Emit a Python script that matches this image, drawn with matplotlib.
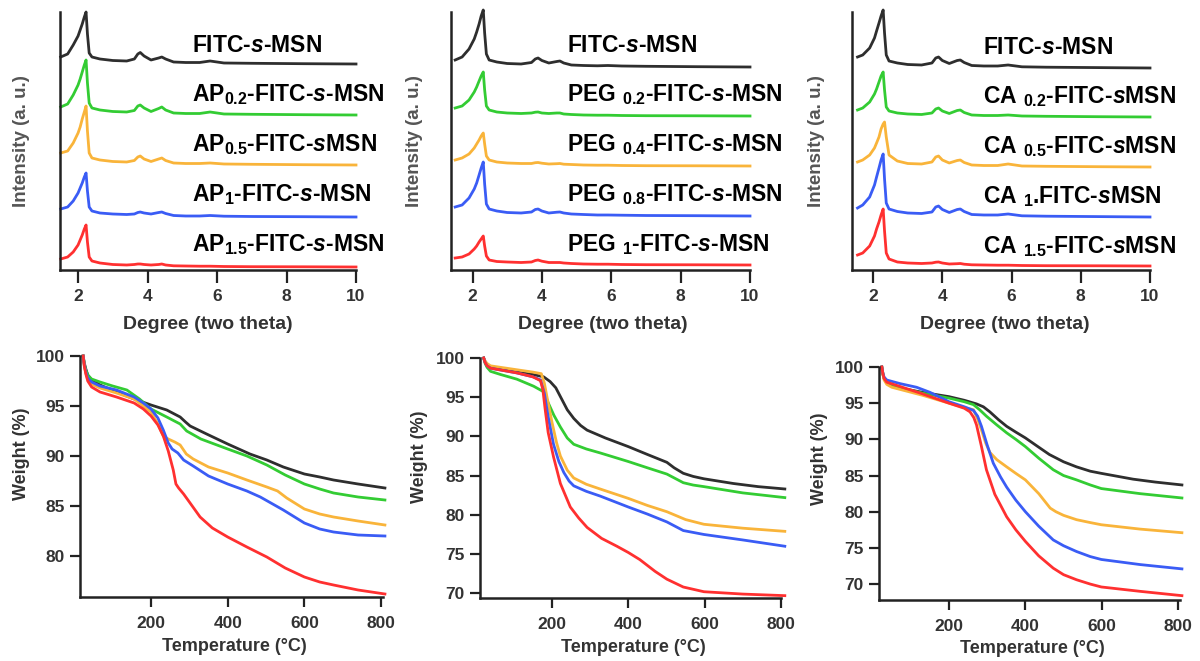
import numpy as np
import matplotlib
matplotlib.use('Agg')
import matplotlib.pyplot as plt

plt.rcParams['font.family'] = ['Liberation Sans', 'DejaVu Sans']
plt.rcParams['font.weight'] = 'bold'
plt.rcParams['axes.labelweight'] = 'bold'
plt.rcParams['mathtext.fontset'] = 'custom'
plt.rcParams['mathtext.rm'] = 'Liberation Sans:bold'
plt.rcParams['mathtext.it'] = 'Liberation Sans:bold:italic'
plt.rcParams['mathtext.bf'] = 'Liberation Sans:bold'
plt.rcParams['mathtext.default'] = 'rm'

colors = ['#2e2e2e', '#33cc33', '#f9b43a', '#3a5cf5', '#ff3030']

# ---- XRD (top row), intensity in a.u. above each trace's own baseline
ap_deg = [1.5, 1.7, 1.86, 2.0, 2.06, 2.12, 2.18, 2.23, 2.27, 2.32, 2.4, 2.63, 3.0, 3.4,
          3.62, 3.72, 3.79, 3.9, 4.1, 4.32, 4.41, 4.52, 4.75, 5.1, 5.5, 5.8, 6.2, 7.0, 8.5, 10.0]
ap_xrd = [
    [7, 10, 19, 28, 34, 40, 47, 52, 30, 11, 7, 5, 3.5, 3, 5, 10, 11.5, 8, 4, 6, 7, 5, 2, 1.5, 1.5, 3, 1, 0.7, 0.3, 0],
    [8, 11, 20, 30, 36, 43, 50, 55, 32, 12, 7, 5, 3.5, 3, 4.5, 9, 10, 7, 3.5, 6.5, 8, 5, 2, 1.5, 1.5, 3, 1, 0.7, 0.3, 0],
    [12, 14, 22, 32, 38, 46, 53, 59, 34, 12, 7, 5, 3.5, 3, 4.5, 8, 9, 6, 3.5, 6, 7, 4.5, 2, 1.5, 1.5, 2, 1, 0.7, 0.3, 0],
    [8, 10, 16, 24, 29, 34, 40, 44, 26, 10, 6, 4, 3, 2.5, 3, 4.5, 5, 4, 3, 4.5, 5, 3.5, 1.5, 1, 1, 1.5, 0.8, 0.5, 0.3, 0],
    [8, 10, 15, 22, 27, 32, 38, 42, 25, 10, 6, 4, 2.5, 2, 2.5, 3, 3, 2.5, 2, 2.5, 3, 2, 1.2, 1, 0.8, 0.8, 0.5, 0.3, 0.2, 0],
]
ap_base = [206, 155, 105, 53, 3]
ap_names = ['FITC-$\\mathit{s}$-MSN',
            '$\\mathrm{AP}_{0.2}$-FITC-$\\mathit{s}$-MSN',
            '$\\mathrm{AP}_{0.5}$-FITC-$\\mathit{s}$MSN',
            '$\\mathrm{AP}_{1}$-FITC-$\\mathit{s}$-MSN',
            '$\\mathrm{AP}_{1.5}$-FITC-$\\mathit{s}$-MSN']

peg_deg = [1.5, 1.7, 1.9, 2.05, 2.12, 2.19, 2.25, 2.31, 2.35, 2.4, 2.48, 2.7, 3.0, 3.4,
           3.7, 3.81, 3.89, 4.0, 4.2, 4.43, 4.52, 4.63, 4.85, 5.2, 5.6, 5.9, 6.3, 7.0, 8.5, 10.0]
peg_xrd = [
    [7, 10, 18, 28, 35, 43, 51, 57, 34, 13, 7, 5, 3.5, 3, 4.5, 8, 9, 6.5, 4, 5.5, 6, 4, 2, 1.5, 1.2, 1.5, 1, 0.7, 0.3, 0],
    [8, 10, 16, 24, 29, 35, 40, 44, 26, 10, 6, 4, 3, 2.5, 3, 3.8, 4, 3, 2.5, 3, 3, 2, 1.5, 1, 0.8, 0.8, 0.5, 0.3, 0.2, 0],
    [6, 8, 12, 18, 22, 26, 30, 33, 22, 10, 6, 4, 3, 2.5, 2.5, 3.3, 3.5, 2.8, 2, 2.3, 2.5, 1.8, 1.5, 1, 0.8, 0.8, 0.5, 0.3, 0.2, 0],
    [9, 11, 18, 27, 33, 41, 48, 54, 32, 12, 7, 5, 3.5, 3, 4, 6.5, 7, 5, 3, 3.8, 4, 3, 2, 1.5, 1, 1, 0.8, 0.5, 0.3, 0],
    [7, 8, 11, 16, 19, 23, 26, 29, 19, 9, 5, 3.5, 3, 2.5, 3, 4.5, 5, 3.8, 2.5, 2.5, 2.5, 2, 1.5, 1, 0.8, 0.8, 0.5, 0.3, 0.2, 0],
]
peg_base = [203, 154, 104, 54, 5]
peg_names = ['FITC-$\\mathit{s}$-MSN',
             '$\\mathrm{PEG\\ }_{0.2}$-FITC-$\\mathit{s}$-MSN',
             '$\\mathrm{PEG\\ }_{0.4}$-FITC-$\\mathit{s}$-MSN',
             '$\\mathrm{PEG\\ }_{0.8}$-FITC-$\\mathit{s}$-MSN',
             '$\\mathrm{PEG\\ }_{1}$-FITC-$\\mathit{s}$-MSN']

ca_deg = [1.55, 1.7, 1.9, 2.04, 2.1, 2.17, 2.23, 2.29, 2.33, 2.38, 2.46, 2.7, 3.0, 3.4,
          3.7, 3.81, 3.89, 4.0, 4.2, 4.43, 4.52, 4.63, 4.85, 5.2, 5.6, 5.9, 6.3, 7.0, 8.5, 10.0]
ca_xrd = [
    [11, 13, 20, 30, 37, 45, 52, 58, 35, 13, 7, 5, 3.5, 3, 5, 10, 11, 7.5, 4.5, 7.5, 8, 5.5, 2.5, 2, 2, 3, 1.2, 0.8, 0.4, 0],
    [7, 9, 15, 23, 28, 35, 41, 45, 27, 10, 6, 4, 3, 2.5, 4, 8, 9, 6, 3.5, 6.5, 7, 4.5, 2, 1.5, 1.5, 2, 1, 0.7, 0.3, 0],
    [5, 7, 12, 19, 24, 30, 38, 43, 45, 30, 12, 6, 3.5, 3, 5, 10, 11, 7, 4, 6.5, 7, 4.5, 2, 1.5, 1.5, 3, 1, 0.7, 0.3, 0],
    [9, 12, 20, 32, 40, 49, 57, 63, 38, 14, 8, 5.5, 4, 3.5, 5, 10, 11, 7.5, 4.5, 7.5, 8, 5.5, 2.5, 2, 2, 3, 1.2, 0.8, 0.4, 0],
    [11, 13, 20, 30, 37, 44, 51, 57, 35, 13, 7, 4, 3, 2.5, 3, 3.8, 4, 3, 2, 2.3, 2.5, 1.8, 1.2, 1, 0.8, 0.8, 0.5, 0.3, 0.2, 0],
]
ca_base = [202, 153, 103, 53, 4]
ca_names = ['FITC-$\\mathit{s}$-MSN',
            '$\\mathrm{CA\\ }_{0.2}$-FITC-$\\mathit{s}$MSN',
            '$\\mathrm{CA\\ }_{0.5}$-FITC-$\\mathit{s}$MSN',
            '$\\mathrm{CA\\ }_{1}$.FITC-$\\mathit{s}$MSN',
            '$\\mathrm{CA\\ }_{1.5}$-FITC-$\\mathit{s}$MSN']

# ---- TGA (bottom row): temperature (C) and weight (%)
ap_tga_t = [
    [23, 26, 30, 35, 45, 67, 110, 156, 200, 241, 276, 290, 302, 345, 400, 458, 502, 545, 600, 640, 676, 740, 810],
    [23, 26, 30, 35, 45, 67, 100, 137, 170, 200, 241, 276, 293, 330, 400, 450, 502, 550, 600, 640, 676, 740, 810],
    [23, 26, 30, 35, 45, 67, 110, 156, 180, 200, 218, 232, 245, 262, 276, 292, 310, 350, 400, 450, 502, 530, 554, 600, 640, 676, 740, 810],
    [23, 26, 30, 35, 45, 67, 110, 156, 180, 200, 218, 232, 245, 255, 270, 285, 310, 350, 400, 450, 485, 545, 600, 640, 676, 740, 810],
    [23, 26, 30, 35, 45, 67, 110, 156, 180, 200, 218, 232, 245, 258, 265, 272, 285, 300, 328, 360, 400, 450, 502, 550, 600, 640, 676, 740, 810],
]
ap_tga_w = [
    [100, 99.3, 98.7, 98.1, 97.6, 97.1, 96.4, 95.7, 95.1, 94.6, 93.9, 93.4, 93.0, 92.2, 91.2, 90.2, 89.6, 88.9, 88.2, 87.9, 87.6, 87.2, 86.8],
    [100, 99.2, 98.6, 98.1, 97.7, 97.4, 97.0, 96.6, 95.7, 94.7, 93.9, 93.2, 92.5, 91.7, 90.7, 90.0, 89.1, 88.1, 87.2, 86.7, 86.3, 85.9, 85.6],
    [100, 99.0, 98.3, 97.7, 97.2, 96.8, 96.3, 95.7, 95.0, 94.4, 93.2, 92.0, 91.7, 91.4, 91.1, 90.2, 89.7, 88.9, 88.3, 87.6, 86.9, 86.5, 85.8, 84.7, 84.2, 83.9, 83.5, 83.1],
    [100, 99.1, 98.4, 97.8, 97.4, 97.0, 96.6, 95.9, 95.3, 94.7, 93.8, 92.6, 91.3, 90.7, 90.3, 89.6, 89.0, 88.0, 87.2, 86.5, 85.9, 84.6, 83.3, 82.7, 82.4, 82.1, 82.0],
    [100, 99.0, 98.2, 97.5, 96.9, 96.4, 95.9, 95.3, 94.7, 94.0, 93.1, 92.0, 90.5, 88.6, 87.2, 86.8, 86.2, 85.4, 83.9, 82.8, 81.9, 80.9, 79.9, 78.8, 77.9, 77.4, 77.1, 76.6, 76.2],
]
peg_tga_t = [
    [21, 25, 30, 39, 70, 108, 150, 178, 195, 210, 225, 240, 257, 275, 292, 340, 400, 450, 501, 520, 544, 570, 598, 675, 740, 810],
    [21, 25, 30, 39, 65, 108, 152, 178, 190, 205, 222, 240, 257, 290, 326, 400, 450, 501, 544, 570, 598, 700, 810],
    [21, 25, 30, 39, 108, 150, 172, 180, 187, 200, 212, 222, 240, 257, 290, 326, 400, 450, 501, 550, 598, 700, 810],
    [21, 25, 30, 39, 108, 150, 170, 180, 190, 204, 218, 231, 245, 257, 290, 326, 400, 450, 501, 544, 598, 700, 810],
    [21, 25, 30, 39, 108, 150, 170, 176, 182, 190, 204, 222, 248, 270, 292, 330, 370, 400, 430, 470, 501, 544, 598, 700, 810],
]
peg_tga_w = [
    [100, 99.5, 99.1, 98.8, 98.5, 98.2, 97.9, 97.6, 97.0, 96.2, 94.8, 93.4, 92.3, 91.4, 90.8, 89.8, 88.7, 87.7, 86.7, 86.0, 85.3, 84.9, 84.6, 84.0, 83.6, 83.3],
    [100, 99.3, 98.8, 98.3, 97.9, 97.3, 96.4, 95.7, 94.3, 92.7, 91.2, 89.8, 89.0, 88.4, 87.9, 86.8, 86.0, 85.2, 84.1, 83.8, 83.6, 82.8, 82.2],
    [100, 99.6, 99.3, 99.0, 98.5, 98.2, 98.0, 96.8, 95.0, 91.8, 89.2, 87.5, 85.7, 84.7, 83.9, 83.3, 82.1, 81.2, 80.4, 79.4, 78.8, 78.3, 77.9],
    [100, 99.4, 99.0, 98.7, 98.1, 97.6, 97.2, 95.5, 92.5, 89.0, 86.8, 85.4, 84.3, 83.7, 83.0, 82.4, 81.0, 80.1, 79.1, 78.0, 77.5, 76.8, 76.0],
    [100, 99.4, 99.0, 98.7, 98.1, 97.6, 97.1, 96.0, 93.5, 90.5, 87.4, 84.0, 81.0, 79.6, 78.4, 77.0, 76.0, 75.2, 74.3, 72.8, 71.8, 70.8, 70.2, 69.9, 69.7],
]
ca_tga_t = [
    [24, 27, 30, 37, 50, 72, 130, 200, 240, 272, 290, 307, 330, 351, 375, 400, 430, 463, 500, 534, 570, 599, 682, 740, 810],
    [24, 27, 30, 37, 50, 72, 130, 200, 240, 264, 280, 298, 325, 351, 375, 400, 435, 473, 500, 534, 570, 599, 700, 810],
    [24, 27, 30, 37, 50, 72, 130, 200, 240, 264, 275, 285, 296, 307, 325, 351, 375, 400, 435, 465, 480, 500, 534, 570, 599, 700, 810],
    [24, 27, 30, 37, 72, 115, 150, 200, 240, 264, 275, 285, 300, 316, 335, 351, 375, 400, 435, 473, 500, 534, 570, 599, 700, 810],
    [24, 27, 30, 37, 72, 130, 200, 240, 255, 265, 272, 285, 298, 320, 351, 375, 400, 435, 473, 500, 534, 570, 599, 700, 810],
]
ca_tga_w = [
    [100, 99.0, 98.4, 97.8, 97.4, 97.1, 96.5, 95.9, 95.4, 94.9, 94.5, 93.8, 92.7, 91.8, 91.0, 90.2, 89.1, 87.9, 86.9, 86.2, 85.6, 85.3, 84.5, 84.1, 83.7],
    [100, 99.0, 98.4, 97.8, 97.4, 97.1, 96.4, 95.7, 95.2, 94.8, 94.1, 93.2, 92.0, 90.9, 90.0, 89.0, 87.4, 85.8, 85.0, 84.4, 83.7, 83.2, 82.5, 81.9],
    [100, 98.9, 98.2, 97.6, 97.2, 96.9, 96.1, 95.0, 94.4, 94.1, 92.8, 91.3, 89.5, 88.2, 87.2, 86.2, 85.3, 84.4, 82.5, 80.5, 80.0, 79.5, 78.9, 78.5, 78.2, 77.6, 77.1],
    [100, 99.1, 98.6, 98.2, 97.7, 97.2, 96.5, 95.2, 94.5, 94.0, 93.2, 91.8, 89.2, 86.7, 84.8, 83.4, 81.6, 80.0, 78.0, 76.1, 75.3, 74.5, 73.8, 73.4, 72.7, 72.1],
    [100, 99.0, 98.4, 97.9, 97.3, 96.3, 95.0, 94.3, 93.8, 93.0, 92.0, 89.0, 85.8, 82.4, 79.3, 77.5, 75.9, 73.9, 72.2, 71.3, 70.6, 70.0, 69.6, 69.0, 68.4],
]

W, H = 1200, 661
fig = plt.figure(figsize=(12, 6.61), dpi=100)


def px_axes(x0, y0, x1, y1):
    return fig.add_axes([x0 / W, 1 - y1 / H, (x1 - x0) / W, (y1 - y0) / H])


def style(ax):
    for s in ['top', 'right']:
        ax.spines[s].set_visible(False)
    for s in ['left', 'bottom']:
        ax.spines[s].set_linewidth(1.8)
        ax.spines[s].set_color('#222222')
    ax.tick_params(width=1.6, color='#222222', labelcolor='#333333', labelsize=12.5)


xrd_sets = [
    ((60, 12, 356, 270), ap_deg, ap_xrd, ap_base, ap_names, (1.48, 10), (192, [45, 95, 145, 195, 245]), -0.101, 0.5),
    ((451, 12, 750, 270), peg_deg, peg_xrd, peg_base, peg_names, (1.38, 10), (567, [45, 95, 145, 195, 245]), -0.094, 0.508),
    ((852, 12, 1150, 270), ca_deg, ca_xrd, ca_base, ca_names, (1.39, 10), (983, [47, 97, 147, 197, 247]), -0.09, 0.513),
]
for box, deg, curves, base, names, xl, lab, ylx, xlx in xrd_sets:
    ax = px_axes(*box)
    style(ax)
    for i in range(5):
        ax.plot(deg, np.array(curves[i]) + base[i], color=colors[i], lw=2, clip_on=False)
    ax.set_xlim(*xl)
    ax.set_ylim(0, 258)
    ax.set_yticks([])
    ax.set_xticks([2, 4, 6, 8, 10])
    ax.tick_params(axis='x', length=9, pad=5)
    ax.set_ylabel('Intensity (a. u.)', fontsize=13.5, color='#555555')
    ax.yaxis.set_label_coords(ylx, 0.5)
    ax.set_xlabel('Degree (two theta)', fontsize=14, color='#333333')
    ax.xaxis.set_label_coords(xlx, -0.177)
    for i in range(5):
        fig.text(lab[0] / W, 1 - lab[1][i] / H, names[i], fontsize=16.5, color='black',
                 va='center', ha='left')

tga_sets = [
    ((80, 356, 383, 597), ap_tga_t, ap_tga_w, (14.8, 805), (75.9, 100), [80, 85, 90, 95, 100], 0.593, -0.165),
    ((480, 358, 781, 598), peg_tga_t, peg_tga_w, (11.4, 800), (69.4, 100), [70, 75, 80, 85, 90, 95, 100], 0.587, -0.172),
    ((879, 367, 1180, 600), ca_tga_t, ca_tga_w, (16.6, 805), (67.8, 100), [70, 75, 80, 85, 90, 95, 100], 0.605, -0.168),
]
for box, ts, ws, xl, yl, yt, lbly, lblx in tga_sets:
    ax = px_axes(*box)
    style(ax)
    for i in range(5):
        ax.plot(ts[i], ws[i], color=colors[i], lw=2, clip_on=False)
    ax.set_xlim(*xl)
    ax.set_ylim(*yl)
    ax.set_xticks([200, 400, 600, 800])
    ax.set_yticks(yt)
    ax.tick_params(axis='x', length=7, pad=7)
    ax.tick_params(axis='y', length=7, pad=4)
    ax.set_xlabel('Temperature (\u00b0C)', fontsize=13, color='#333333')
    ax.xaxis.set_label_coords(0.51, -0.172)
    ax.set_ylabel('Weight (%)', fontsize=13, color='#333333')
    ax.yaxis.set_label_coords(lblx, lbly)

fig.savefig('out.png', dpi=100)
